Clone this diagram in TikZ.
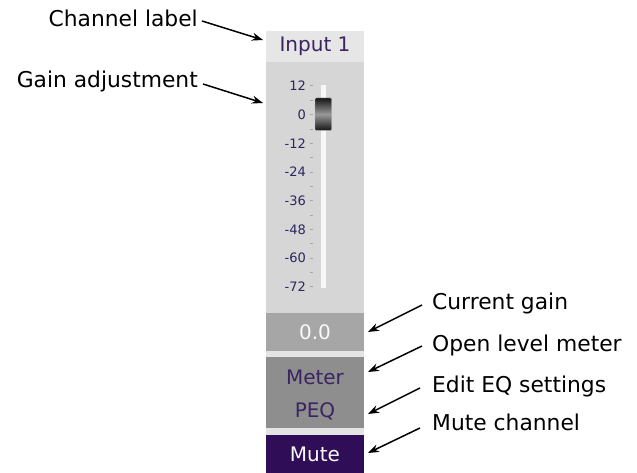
\documentclass[tikz,border=0pt]{standalone}
\usepackage{fontspec}
\setmainfont{DejaVu Sans}
\usetikzlibrary{arrows.meta}

\definecolor{lblgray}{HTML}{E6E6E6}
\definecolor{panelgray}{HTML}{D6D6D6}
\definecolor{gaingray}{HTML}{A6A6A6}
\definecolor{btngray}{HTML}{8E8E8E}
\definecolor{gapgray}{HTML}{E4E4E4}
\definecolor{mutepurple}{HTML}{2F0E57}
\definecolor{txtpurple}{HTML}{3B2462}
\definecolor{scalenavy}{HTML}{2B265E}

\begin{document}
\begin{tikzpicture}[x=1pt, y=-1pt,
    note/.style={font=\fontsize{21.8}{24}\selectfont, inner sep=0pt},
    pointer/.style={-{Stealth[length=11pt, width=8pt]}, line width=1.5pt},
    strip/.style={inner sep=0pt, minimum width=98pt, font=\fontsize{20}{24}\selectfont},
    scalelbl/.style={font=\fontsize{13}{14}\selectfont, text=scalenavy, inner sep=0pt, anchor=east},
]
\useasboundingbox (0,0) rectangle (637,473);

% channel strip
\node[strip, fill=lblgray, minimum height=31pt, text=txtpurple] (inbox) at (315,46.5) {Input 1};
\node[strip, fill=panelgray, minimum height=251pt] (gainpanel) at (315,187.5) {};
\node[strip, fill=gaingray, minimum height=38pt, text=white!95!gray] (gainval) at (315,332) {0.0};
\fill[gapgray] (266,351) rectangle (364,357);
\node[strip, fill=btngray, minimum height=71pt] (btnbox) at (315,392.5) {};
\node[font=\fontsize{20}{24}\selectfont, text=txtpurple] (meterbtn) at (315,377) {Meter};
\node[font=\fontsize{20}{24}\selectfont, text=txtpurple] (peqbtn) at (315,411) {PEQ};
\fill[gapgray] (266,428) rectangle (364,435);
\node[strip, fill=mutepurple, minimum height=38pt, text=white!95!gray] (mutebtn) at (315,454) {Mute};

% fader scale
\fill[white!94!gray] (320.5,85) rectangle (326,288);
\foreach \v [count=\i from 0] in {12,0,-12,-24,-36,-48,-60,-72}{
  \node[scalelbl] (tick\i) at (306,86+28.7*\i) {\v};
  \draw[gray!70, line width=1pt] (309.5,86+28.7*\i) -- (312.5,86+28.7*\i);
}
\foreach \i in {0,...,6}{
  \draw[gray!70, line width=1pt] (309.5,100.35+28.7*\i) -- (312.5,100.35+28.7*\i);
}
% fader knob
\shade[top color=black!92, bottom color=black!92, middle color=gray!80, rounded corners=1pt, draw=gray!60]
  (315,98) rectangle (331.5,130.5);

% annotations
\node[note, anchor=east] (chnote) at (198,18) {Channel label};
\node[note, anchor=east] (gainnote) at (198,81) {Gain adjustment};
\node[note, anchor=west] (curnote) at (432,303) {Current gain};
\node[note, anchor=west] (meternote) at (432,345) {Open level meter};
\node[note, anchor=west] (eqnote) at (432,386) {Edit EQ settings};
\node[note, anchor=west] (mutenote) at (432,422) {Mute channel};

\coordinate (chtip) at (263,40);
\coordinate (gaintip) at (263,103);
\coordinate (curtip) at (368,332);
\coordinate (metertip) at (368,372);
\coordinate (eqtip) at (368,414);
\coordinate (mutetip) at (368,453);

\draw[pointer] ([xshift=4pt,yshift=-3pt]chnote.east) -- (chtip);
\draw[pointer] ([xshift=5pt,yshift=-3pt]gainnote.east) -- (gaintip);
\draw[pointer] ([xshift=-10pt,yshift=-2pt]curnote.west) -- (curtip);
\draw[pointer] ([xshift=-10pt,yshift=-1pt]meternote.west) -- (metertip);
\draw[pointer] ([xshift=-12pt,yshift=-2pt]eqnote.west) -- (eqtip);
\draw[pointer] ([xshift=-12pt,yshift=-6pt]mutenote.west) -- (mutetip);
\end{tikzpicture}
\end{document}
